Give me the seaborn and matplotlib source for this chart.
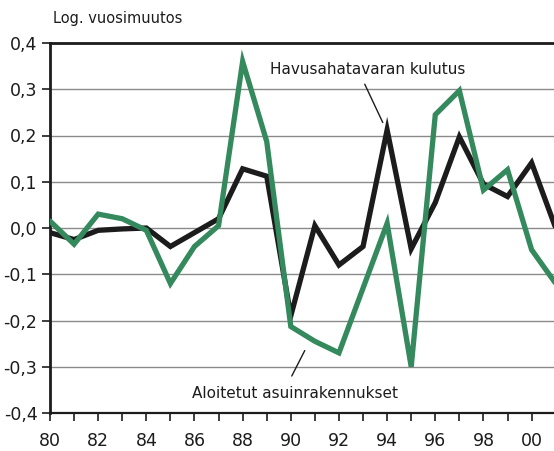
import matplotlib
matplotlib.use("Agg")
import matplotlib.pyplot as plt
import seaborn as sns
import pandas as pd
import numpy as np

years = list(range(80, 102))
havusahatavara = [-0.01, -0.025, -0.005, -0.002, 0.0, -0.04, -0.01, 0.02, 0.128, 0.112,
                  -0.19, 0.005, -0.08, -0.04, 0.212, -0.045, 0.055, 0.197, 0.095, 0.068,
                  0.141, 0.0]
aloitetut = [0.015, -0.035, 0.03, 0.02, -0.005, -0.12, -0.04, 0.005, 0.36, 0.187,
             -0.213, -0.245, -0.27, -0.13, 0.01, -0.30, 0.245, 0.297, 0.082, 0.126,
             -0.047, -0.12]
xtick_labels = ["80", "82", "84", "86", "88", "90", "92", "94", "96", "98", "00"]
ytick_vals = [-0.4, -0.3, -0.2, -0.1, 0.0, 0.1, 0.2, 0.3, 0.4]

df = pd.DataFrame({
    "year": years * 2,
    "value": havusahatavara + aloitetut,
    "series": ["Havusahatavaran kulutus"] * len(years) + ["Aloitetut asuinrakennukset"] * len(years),
})

sns.set_style("white")
plt.rcParams['font.family'] = ['DejaVu Sans']

fig = plt.figure(figsize=(5.54, 4.51), dpi=100)
ax = fig.add_axes([50/554, 1 - 413/451, 504/554, 370/451])

for v in ytick_vals:
    ax.axhline(v, color="#8a8a8a", lw=1.0, zorder=0)

sns.lineplot(data=df, x="year", y="value", hue="series",
             palette={"Havusahatavaran kulutus": "#1c1c1c", "Aloitetut asuinrakennukset": "#34895d"},
             hue_order=["Havusahatavaran kulutus", "Aloitetut asuinrakennukset"],
             linewidth=3.8, ax=ax, legend=False, zorder=3)
for l in ax.lines:
    l.set_solid_joinstyle("miter")

ax.set_xlim(80, 100.93)
ax.set_ylim(-0.4, 0.4)
ax.set_xlabel("")
ax.set_ylabel("")

ax.set_xticks(range(80, 101, 2))
ax.set_xticklabels(xtick_labels)
ax.set_xticks(range(81, 101, 2), minor=True)
ax.set_yticks(ytick_vals)
ax.set_yticklabels([("%.1f" % v).replace(".", ",").replace("-0,0", "0,0") for v in ytick_vals])

for s in ["left", "bottom", "top"]:
    ax.spines[s].set_visible(True)
    ax.spines[s].set_color("#1c1c1c")
    ax.spines[s].set_linewidth(2.0)
ax.spines["right"].set_visible(False)
ax.spines["bottom"].set_linewidth(1.6)

ax.tick_params(axis="both", which="both", direction="out", length=6, width=1.2,
               color="#1c1c1c", labelsize=12.5, labelcolor="#1c1c1c")
ax.tick_params(axis="x", which="both", pad=8, bottom=True)
ax.tick_params(axis="y", pad=3, left=True)

fig.text(53/554, 1 - 18/451, "Log. vuosimuutos", fontsize=10.5, color="#1c1c1c",
         ha="left", va="center")

ax.text(89.13, 0.343, "Havusahatavaran kulutus", fontsize=11, color="#1c1c1c",
        ha="left", va="center", zorder=5)
ax.plot([93.07, 93.82], [0.311, 0.228], color="#1c1c1c", lw=1.0, zorder=5)

ax.text(85.89, -0.357, "Aloitetut asuinrakennukset", fontsize=11, color="#1c1c1c",
        ha="left", va="center", zorder=5)
ax.plot([90.04, 90.58], [-0.32, -0.265], color="#1c1c1c", lw=1.0, zorder=5)

fig.savefig("out.png", dpi=100)
